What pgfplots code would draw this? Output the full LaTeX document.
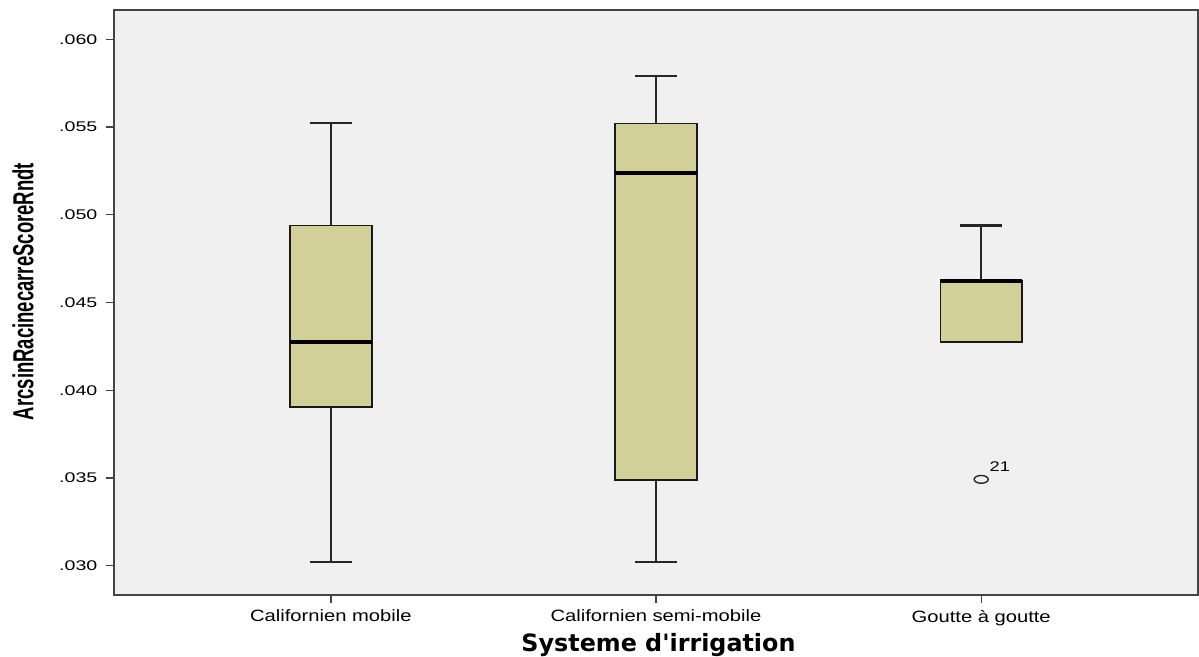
\documentclass[border=0pt]{standalone}
\usepackage{pgfplots}
\pgfplotsset{compat=1.18}
\usepgfplotslibrary{statistics}
\usepackage{graphicx}
\usepackage{fontspec}
\setmainfont{Liberation Sans}
\newfontfamily\xlabfont{DejaVu Sans}
\definecolor{boxfill}{HTML}{D3CF98}
\definecolor{bg}{HTML}{F0F0F0}
\definecolor{frame}{HTML}{444444}
\newcommand{\yt}[1]{\scalebox{1.4}[1]{#1}}
\newcommand{\xt}[1]{\scalebox{1.23}[1]{#1}}
% 1 reference pixel = 0.5bp; y values are in thousandths (30 = .030)
\begin{document}
\begin{tikzpicture}
\begin{axis}[
  scale only axis, width=542bp, height=292.5bp,
  xmin=-0.6667, xmax=2.6667, ymin=28.329, ymax=61.670,
  axis background/.style={fill=bg},
  axis line style={frame, line width=0.8bp},
  tick style={frame, line width=0.7bp},
  tick align=outside, major tick length=4bp,
  xtick pos=left, ytick pos=left,
  xtick={0,1,2},
  xticklabels={\xt{Californien mobile},\xt{Californien semi-mobile},\xt{Goutte à goutte}},
  ytick={30,35,40,45,50,55,60},
  yticklabels={\yt{.030},\yt{.035},\yt{.040},\yt{.045},\yt{.050},\yt{.055},\yt{.060}},
  yticklabel style={font=\fontsize{7bp}{8bp}\selectfont, text=black, xshift=-0.8bp},
  xticklabel style={font=\fontsize{8.2bp}{9bp}\selectfont, text=black},
  every axis x label/.style={at={(axis description cs:0.5023,-0.0863)}, anchor=center},
  every axis y label/.style={at={(axis description cs:-0.0839,0.5188)}, anchor=center, rotate=90},
  xlabel={\resizebox{137bp}{!}{\xlabfont\bfseries Systeme d'irrigation}},
  ylabel={\resizebox{128.5bp}{10.5bp}{\bfseries ArcsinRacinecarreScoreRndt}},
  boxplot/draw direction=y,
  boxplot/box extend=0.2515,
  boxplot/whisker extend=0.129,
  boxplot/every whisker/.style={draw=black!85, line width=1.15bp},
  boxplot/every median/.style={draw=black, line width=1.9bp},
  clip=false,
]
\addplot+[boxplot prepared={lower whisker=30.21, lower quartile=39.04, median=42.75,
  upper quartile=49.38, upper whisker=55.21, draw position=0},
  draw=black!90, fill=boxfill, line width=0.8bp, solid, mark=none]
  coordinates {};
\addplot+[boxplot prepared={lower whisker=30.21, lower quartile=34.90, median=52.36,
  upper quartile=55.21, upper whisker=57.91, draw position=1},
  draw=black!90, fill=boxfill, line width=0.8bp, solid, mark=none]
  coordinates {};
\addplot+[boxplot prepared={lower whisker=42.75, lower quartile=42.75, median=46.21,
  upper quartile=46.21, upper whisker=49.38, draw position=2},
  draw=black!90, fill=boxfill, line width=0.8bp, solid,
  mark=o, mark size=1.95bp, mark options={xscale=1.8, line width=0.7bp, draw=black!85, fill=none}]
  table[row sep=\\, y index=0] {34.92\\};
\node[inner sep=0pt, font=\fontsize{7bp}{8bp}\selectfont] at (axis cs:2.0574,35.64) {\scalebox{1.3}[1]{21}};
\end{axis}
\pgfresetboundingbox
\path ([shift={(-57bp,-31bp)}]current axis.south west) rectangle ([shift={(0.5bp,5bp)}]current axis.north east);
\end{tikzpicture}
\end{document}
